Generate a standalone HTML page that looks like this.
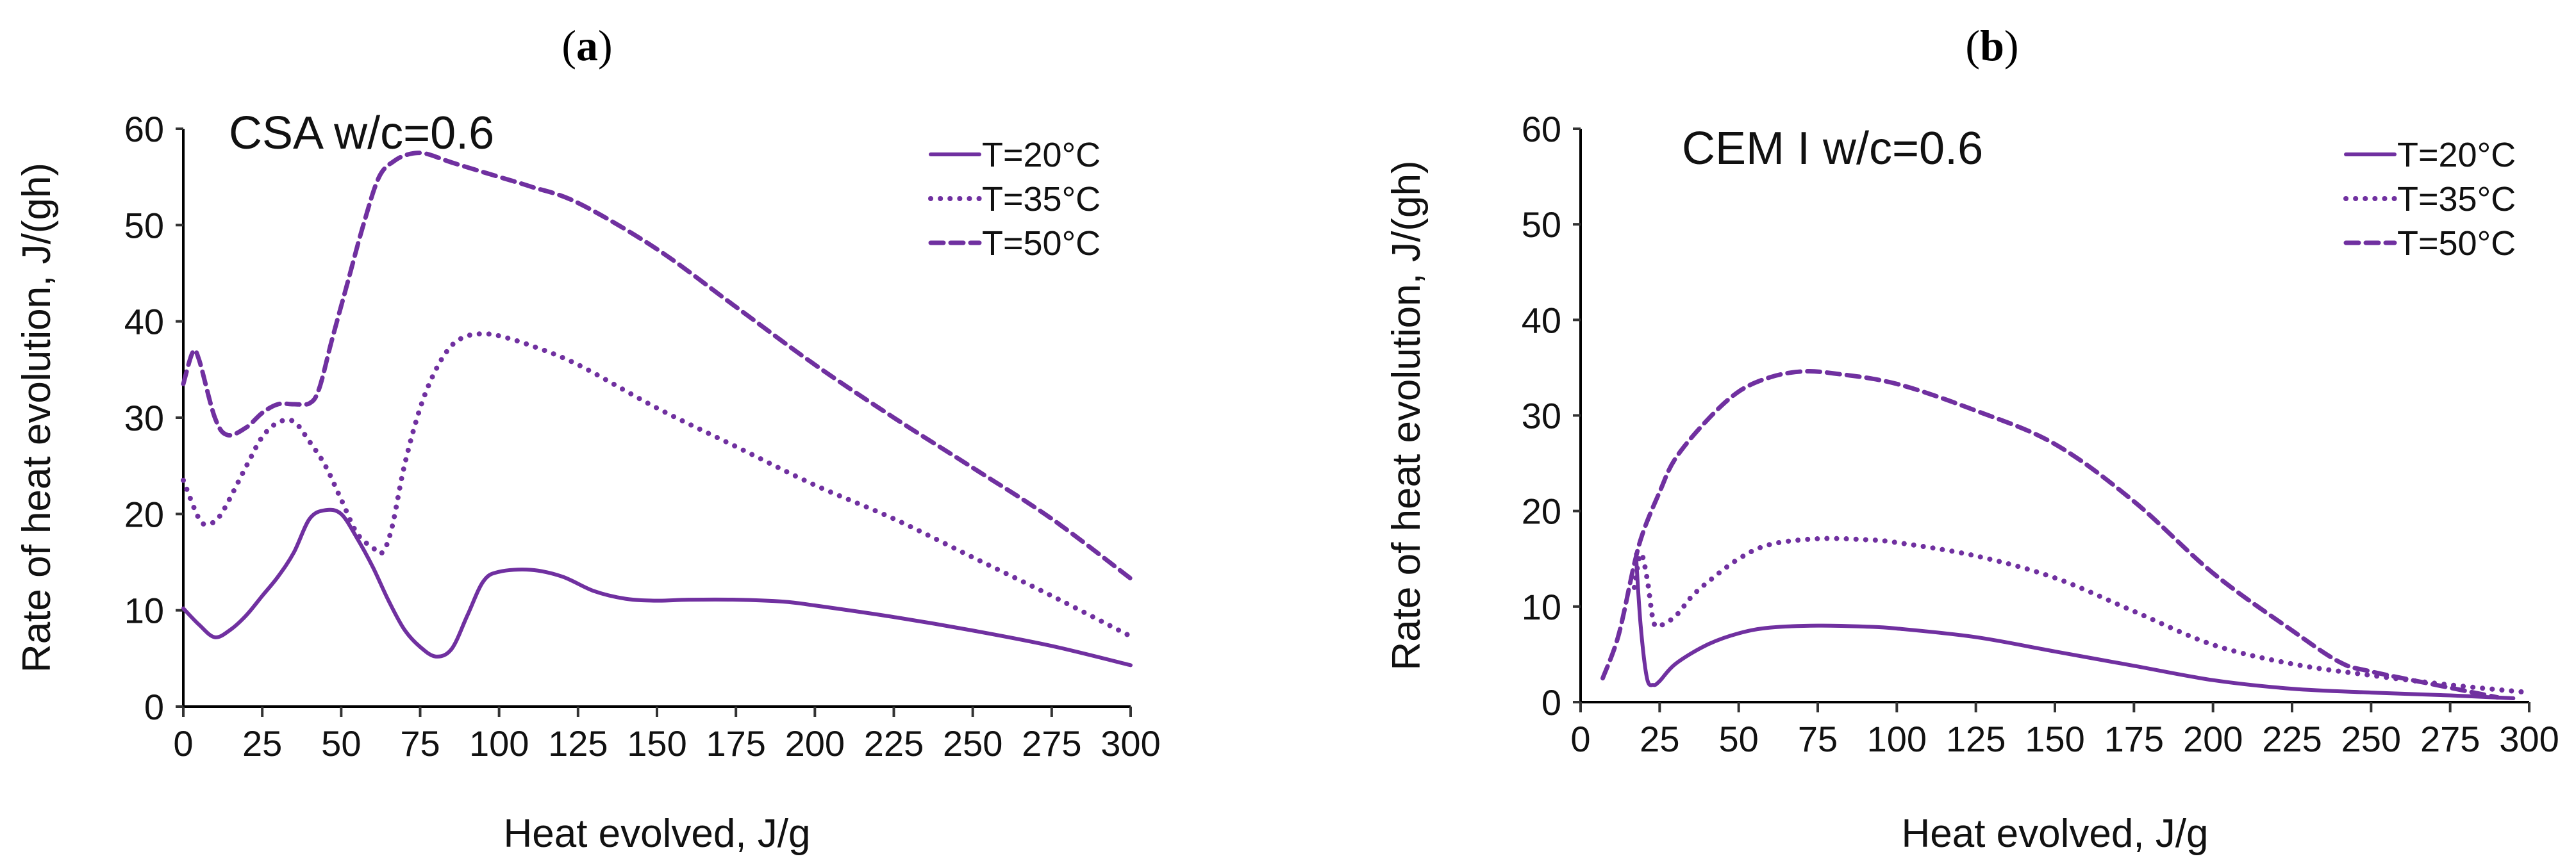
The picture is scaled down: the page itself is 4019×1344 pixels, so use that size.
<!DOCTYPE html>
<html><head><meta charset="utf-8"><style>
html,body{margin:0;padding:0;background:#fff;}
svg{display:block;font-family:"Liberation Sans",sans-serif;}
</style></head><body>
<svg id="fig" width="4019" height="1344" viewBox="0 0 4019 1344"></svg>
<script>
const xTicks=[0,25,50,75,100,125,150,175,200,225,250,275,300];
const yTicks=[0,10,20,30,40,50,60];
const legendLabels=["T=20°C","T=35°C","T=50°C"];
const panelA_x20=[0,5,10,15,20,25,30,35,40,45,50,55,60,65,70,75,80,85,90,95,100,110,120,130,140,150,160,175,190,200,225,250,275,300];
const panelA_y20=[10.2,8.5,7.2,8,9.5,11.5,13.5,16,19.5,20.4,20,17.5,14.5,11,8,6.2,5.2,6,9.5,13,14,14.2,13.5,12,11.2,11,11.1,11.1,10.9,10.5,9.3,7.9,6.3,4.3];
const panelA_x35=[0,5,8,12,20,25,30,35,40,45,50,55,60,63,66,70,75,80,85,90,95,100,110,125,150,175,200,225,250,275,300];
const panelA_y35=[23.5,19.5,19,20,25,28,29.5,29.6,27.5,25,21.5,18,16.5,16,18.5,25,31,35,37.5,38.5,38.7,38.5,37.5,35.5,31,27,23,19.5,15.5,11.5,7.3];
const panelA_x50=[0,3,5,10,14,20,25,30,35,40,43,47,52,57,62,67,72,77,85,100,110,125,150,175,200,225,250,275,300];
const panelA_y50=[33.5,36.8,36,30,28.2,29,30.5,31.4,31.4,31.5,33,38,44,50,55,56.7,57.4,57.4,56.5,55,54,52.3,47.5,41.5,35.5,30,24.8,19.5,13.3];
const panelB_x20=[17.5,19,21,23,25,30,40,50,60,75,90,100,125,150,175,200,225,250,275,295];
const panelB_y20=[15.5,8,2.5,1.8,2.2,4,6,7.2,7.8,8,7.9,7.7,6.8,5.3,3.8,2.3,1.4,1,0.7,0.4];
const panelB_x35=[17,19,21,23,25,30,35,40,50,60,75,90,100,125,150,175,200,225,250,275,300];
const panelB_y35=[12,15.5,13,8.5,8,9,11,12.5,15,16.5,17.1,17,16.7,15.3,13,9.5,6,4,2.8,1.8,1];
const panelB_x50=[7,12,17,20,25,30,40,50,60,70,80,100,125,150,175,200,225,240,250,275,290];
const panelB_y50=[2.5,7,14.5,18,22,25.5,29.5,32.5,34,34.6,34.4,33.3,30.5,27,21,13.5,7.5,4.2,3.2,1.5,0.5];

const NS="http://www.w3.org/2000/svg";
const svg=document.getElementById('fig');
const COL="#7030a0";
function mk(tag,attrs,parent){const e=document.createElementNS(NS,tag);for(const k in attrs)e.setAttribute(k,attrs[k]);(parent||svg).appendChild(e);return e;}
function txt(s,attrs,parent){const e=mk('text',attrs,parent);e.textContent=s;return e;}
function smooth(pts){let d="M"+pts[0][0]+","+pts[0][1];for(let i=0;i<pts.length-1;i++){const p0=pts[i-1]||pts[i],p1=pts[i],p2=pts[i+1],p3=pts[i+2]||p2;const c1x=p1[0]+(p2[0]-p0[0])/6,c1y=p1[1]+(p2[1]-p0[1])/6,c2x=p2[0]-(p3[0]-p1[0])/6,c2y=p2[1]-(p3[1]-p1[1])/6;d+=" C"+c1x+","+c1y+" "+c2x+","+c2y+" "+p2[0]+","+p2[1];}return d;}
const styles=[{dash:null,w:6},{dash:"0.1 15",w:8},{dash:"20 11",w:7}];

function panel(cfg){
  const g=mk('g',{});
  
  
  const X=v=>cfg.x0+(cfg.x1-cfg.x0)*v/300, Y=v=>cfg.y0-(cfg.y0-cfg.y60)*v/60;
  const t=mk('text',{x:cfg.labelX,y:94,'font-family':'"Liberation Serif",serif','font-size':68,'text-anchor':'middle'},g);
  
  t.appendChild(document.createTextNode('('));
  const b=mk('tspan',{'font-weight':'bold'},t);b.textContent=cfg.label;
  t.appendChild(document.createTextNode(')'));
  const ax=mk('path',{d:`M${X(0)},${Y(60)} L${X(0)},${Y(0)} L${X(300)},${Y(0)}`,stroke:'#000','stroke-width':4,fill:'none'},g);
  
  yTicks.forEach(v=>{
    const tk=mk('line',{x1:X(0)-12,x2:X(0),y1:Y(v),y2:Y(v),stroke:'#333','stroke-width':4},g);
    
    const l=txt(String(v),{x:X(0)-30,y:Y(v)+20,'font-size':56,'text-anchor':'end',fill:'#111'},g);
    
  });
  xTicks.forEach(v=>{
    const tk=mk('line',{x1:X(v),x2:X(v),y1:Y(0),y2:Y(0)+16,stroke:'#333','stroke-width':4},g);
    
    const l=txt(String(v),{x:X(v),y:Y(0)+77,'font-size':56,'text-anchor':'middle',fill:'#111'},g);
    
  });
  const xt=txt('Heat evolved, J/g',{x:(X(0)+X(300))/2,y:1322,'font-size':62,'text-anchor':'middle',fill:'#111'},g);
  
  const yt=txt('Rate of heat evolution, J/(gh)',{x:0,y:0,'font-size':62,'text-anchor':'middle',fill:'#111',transform:`translate(${cfg.ytX},${(Y(0)+Y(60))/2}) rotate(-90)`},g);
  
  const ct=txt(cfg.title,{x:cfg.titleX,y:cfg.titleY,'font-size':72,fill:'#111'},g);
  
  cfg.series.forEach((s,i)=>{
    const pts=s[0].map((v,j)=>[X(v),Y(s[1][j])]);
    const p=mk('path',{d:smooth(pts),stroke:COL,'stroke-width':styles[i].w,fill:'none','stroke-linecap':'round','stroke-linejoin':'round'},g);
    if(styles[i].dash)p.setAttribute('stroke-dasharray',styles[i].dash);
    
    
    const ly=[241,310,379][i];
    const ll=mk('line',{x1:cfg.legX,x2:cfg.legX+76,y1:ly,y2:ly,stroke:COL,'stroke-width':styles[i].w,'stroke-linecap':'round'},g);
    if(styles[i].dash)ll.setAttribute('stroke-dasharray',styles[i].dash);
    
    const lt=txt(legendLabels[i],{x:cfg.legX+80,y:ly+19,'font-size':54,fill:'#111'},g);
    
  });
}
panel({name:'panel-a',label:'a',labelX:916,x0:286,x1:1764,y0:1103,y60:201,ytX:78,title:'CSA w/c=0.6',titleX:357,titleY:232,legX:1452,
  series:[[panelA_x20,panelA_y20],[panelA_x35,panelA_y35],[panelA_x50,panelA_y50]]});
panel({name:'panel-b',label:'b',labelX:3108,x0:2466,x1:3946,y0:1096,y60:201,ytX:2215,title:'CEM I w/c=0.6',titleX:2624,titleY:256,legX:3660,
  series:[[panelB_x20,panelB_y20],[panelB_x35,panelB_y35],[panelB_x50,panelB_y50]]});
</script>
</body></html>
